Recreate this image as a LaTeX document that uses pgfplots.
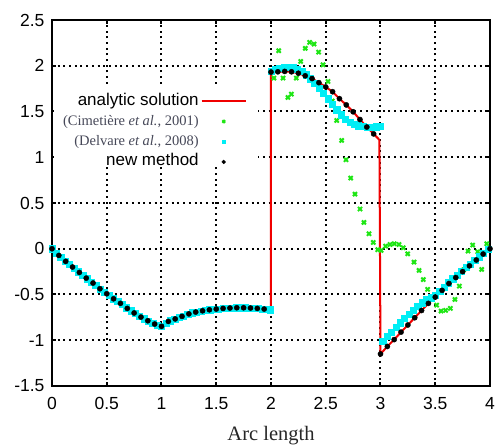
\documentclass[border=0pt]{standalone}
\usepackage{pgfplots}
\pgfplotsset{compat=1.18}
\usepackage{pgfplotstable}
\usepackage{fontspec}
\setmainfont{Liberation Sans}
\newfontfamily\serif{Liberation Serif}
\definecolor{gpred}{RGB}{240,0,0}
\definecolor{gpgreen}{RGB}{30,230,20}
\definecolor{gpcyan}{RGB}{0,238,245}
\definecolor{citegray}{RGB}{70,72,88}
\pgfplotsset{
  leglinecode/.style={legend image code/.code={\draw[##1] (0pt,0pt) -- (44pt,0pt);}},
  legmarkcode/.style={legend image code/.code={\draw[##1, only marks, mark size=1.9pt] plot coordinates {(22pt,0pt)};}},
}

\pgfplotstableread{
x y
0 0
0.0625 -0.073
0.125 -0.138
0.1875 -0.200
0.25 -0.259
0.3125 -0.321
0.375 -0.375
0.4375 -0.437
0.5 -0.492
0.5625 -0.547
0.625 -0.597
0.6875 -0.652
0.75 -0.702
0.8125 -0.747
0.875 -0.787
0.9375 -0.823
1.0 -0.848
1.0625 -0.794
1.125 -0.767
1.1875 -0.739
1.25 -0.712
1.3125 -0.692
1.375 -0.678
1.4375 -0.667
1.5 -0.659
1.5625 -0.652
1.625 -0.648
1.6875 -0.645
1.75 -0.645
1.8125 -0.648
1.875 -0.652
1.9375 -0.659
2.0 -0.667
2.0 1.931
2.0625 1.934
2.125 1.938
2.1875 1.934
2.25 1.918
2.3125 1.890
2.375 1.860
2.4375 1.815
2.5 1.768
2.5625 1.716
2.625 1.640
2.6875 1.572
2.75 1.497
2.8125 1.412
2.875 1.330
2.9375 1.255
2.99 1.190
3.0 -1.150
3.0625 -1.068
3.125 -0.993
3.1875 -0.911
3.25 -0.833
3.3125 -0.754
3.375 -0.675
3.4375 -0.597
3.5 -0.528
3.5625 -0.455
3.625 -0.380
3.6875 -0.315
3.75 -0.250
3.8125 -0.187
3.875 -0.123
3.9375 -0.058
4.0 0.0
}\analytic

\pgfplotstableread{
x y
0 0
0.0625 -0.073
0.125 -0.138
0.1875 -0.200
0.25 -0.259
0.3125 -0.321
0.375 -0.375
0.4375 -0.437
0.5 -0.492
0.5625 -0.547
0.625 -0.597
0.6875 -0.652
0.75 -0.702
0.8125 -0.747
0.875 -0.787
0.9375 -0.823
1.0 -0.848
1.0625 -0.794
1.125 -0.767
1.1875 -0.739
1.25 -0.712
1.3125 -0.692
1.375 -0.678
1.4375 -0.667
1.5 -0.659
1.5625 -0.652
1.625 -0.648
1.6875 -0.645
1.75 -0.645
1.8125 -0.648
1.875 -0.652
1.9375 -0.659
2.0 1.931
2.0625 1.934
2.125 1.938
2.1875 1.934
2.25 1.918
2.3125 1.890
2.375 1.860
2.4375 1.815
2.5 1.768
2.5625 1.716
2.625 1.640
2.6875 1.572
2.75 1.497
2.8125 1.412
2.875 1.330
2.9375 1.255
3.0 -1.150
3.0625 -1.068
3.125 -0.993
3.1875 -0.911
3.25 -0.833
3.3125 -0.754
3.375 -0.675
3.4375 -0.597
3.5 -0.528
3.5625 -0.455
3.625 -0.380
3.6875 -0.315
3.75 -0.250
3.8125 -0.187
3.875 -0.123
3.9375 -0.058
4.0 0.0
}\newmethod

\pgfplotstableread{
x y
0.00 0.000
0.04 -0.047
0.08 -0.094
0.12 -0.133
0.16 -0.172
0.20 -0.212
0.24 -0.250
0.28 -0.290
0.32 -0.328
0.36 -0.362
0.40 -0.401
0.44 -0.439
0.48 -0.474
0.52 -0.511
0.56 -0.545
0.60 -0.577
0.64 -0.609
0.68 -0.644
0.72 -0.678
0.76 -0.706
0.80 -0.739
0.84 -0.765
0.88 -0.790
0.92 -0.815
0.96 -0.833
1.00 -0.848
1.04 -0.814
1.08 -0.786
1.12 -0.768
1.16 -0.751
1.20 -0.733
1.24 -0.714
1.28 -0.700
1.32 -0.690
1.36 -0.681
1.40 -0.674
1.44 -0.667
1.48 -0.661
1.52 -0.657
1.56 -0.652
1.60 -0.649
1.64 -0.647
1.68 -0.645
1.72 -0.645
1.76 -0.645
1.80 -0.647
1.84 -0.649
1.88 -0.652
1.92 -0.657
1.96 -0.662
1.99 -0.666
2.00 1.938
2.04 1.960
2.08 1.977
2.12 1.985
2.16 1.987
2.20 1.980
2.24 1.963
2.28 1.938
2.32 1.902
2.36 1.858
2.40 1.810
2.44 1.758
2.48 1.700
2.52 1.640
2.56 1.580
2.60 1.520
2.64 1.465
2.68 1.418
2.72 1.385
2.76 1.360
2.80 1.345
2.84 1.336
2.88 1.332
2.92 1.330
2.96 1.333
3.00 1.337
3.02 -1.010
3.06 -0.960
3.10 -0.908
3.14 -0.858
3.18 -0.808
3.22 -0.760
3.26 -0.713
3.30 -0.668
3.34 -0.627
3.38 -0.590
3.42 -0.557
3.46 -0.535
3.50 -0.505
3.54 -0.465
3.58 -0.417
3.62 -0.370
3.66 -0.327
3.70 -0.287
3.74 -0.246
3.78 -0.205
3.82 -0.166
3.86 -0.126
3.90 -0.086
3.94 -0.046
3.98 -0.008
}\delvare

\pgfplotstableread{
x y
0.00 0.000
0.04 -0.047
0.08 -0.094
0.12 -0.133
0.16 -0.172
0.20 -0.212
0.24 -0.250
0.28 -0.290
0.32 -0.328
0.36 -0.362
0.40 -0.401
0.44 -0.439
0.48 -0.474
0.52 -0.511
0.56 -0.545
0.60 -0.577
0.64 -0.609
0.68 -0.644
0.72 -0.678
0.76 -0.706
0.80 -0.739
0.84 -0.765
0.88 -0.790
0.92 -0.815
0.96 -0.833
1.00 -0.848
1.04 -0.814
1.08 -0.786
1.12 -0.768
1.16 -0.751
1.20 -0.733
1.24 -0.714
1.28 -0.700
1.32 -0.690
1.36 -0.681
1.40 -0.674
1.44 -0.667
1.48 -0.661
1.52 -0.657
1.56 -0.652
1.60 -0.649
1.64 -0.647
1.68 -0.645
1.72 -0.645
1.76 -0.645
1.80 -0.647
1.84 -0.649
1.88 -0.652
1.92 -0.657
1.96 -0.662
2.027 1.865
2.07 2.164
2.11 1.865
2.155 1.654
2.186 1.690
2.231 1.865
2.271 2.047
2.313 2.190
2.353 2.256
2.393 2.237
2.435 2.149
2.475 2.010
2.52 1.828
2.56 1.615
2.60 1.402
2.646 1.184
2.685 0.973
2.728 0.772
2.767 0.597
2.813 0.434
2.849 0.288
2.895 0.164
2.934 0.069
2.975 -0.010
3.005 -0.018
3.047 0.029
3.087 0.047
3.126 0.055
3.169 0.047
3.208 0.011
3.248 -0.055
3.306 -0.146
3.352 -0.237
3.391 -0.337
3.431 -0.444
3.473 -0.535
3.513 -0.616
3.553 -0.681
3.595 -0.674
3.638 -0.652
3.68 -0.554
3.72 -0.408
3.76 -0.230
3.80 -0.025
3.842 0.040
3.888 -0.033
3.924 -0.226
3.97 0.055
}\cimetiere

\begin{document}
\begin{tikzpicture}
\begin{axis}[
  scale only axis, width=438pt, height=366pt,
  xmin=0, xmax=4, ymin=-1.5, ymax=2.5,
  xtick={0,0.5,1,1.5,2,2.5,3,3.5,4},
  ytick={-1.5,-1,-0.5,0,0.5,1,1.5,2,2.5},
  /pgf/number format/assume math mode=true,
  ticklabel style={font=\fontsize{17.5}{20}\selectfont},
  yticklabel style={xshift=-4pt},
  xticklabel style={yshift=-8pt},
  tick align=inside, major tick length=4pt,
  every tick/.style={black, line width=2pt},
  axis line style={line width=2.2pt},
  grid=major,
  major grid style={black, line width=2pt, dash pattern=on 2pt off 3.7pt},
  clip=false,
  xlabel={\serif\fontsize{20.5}{24}\selectfont Arc length},
  xlabel style={at={(axis description cs:0.5,0)}, anchor=base, yshift=-55pt, black!85},
  legend plot pos=right,
  legend cell align=right,
  legend style={draw=none, fill=none, at={(axis description cs:0.445,0.806)}, anchor=north east,
    inner sep=0pt, row sep=0pt, font=\fontsize{17}{19}\selectfont,
    nodes={text height=13.5pt, text depth=5.5pt, inner ysep=0.6pt}},
]
\fill[white] (axis cs:0.018,0.907) rectangle (axis cs:1.88,1.76);
\addplot[gpred, line width=2pt, no marks, leglinecode] table {\analytic};
\addlegendentry{analytic solution}
\addplot[only marks, mark=x, mark size=2.9pt, gpgreen, mark options={line width=2pt}, legmarkcode] table {\cimetiere};
\addlegendentry{\serif\fontsize{14.5}{16}\selectfont\color{citegray}(Cimetière \textit{et al.}, 2001)}
\addplot[only marks, mark=square*, mark size=3.1pt, gpcyan, legmarkcode] table {\delvare};
\addlegendentry{\serif\fontsize{14.5}{16}\selectfont\color{citegray}(Delvare \textit{et al.}, 2008)}
\addplot[only marks, mark=*, mark size=2.6pt, black, legmarkcode] table {\newmethod};
\addlegendentry{new method}
\end{axis}
\pgfresetboundingbox
\path[use as bounding box] ([shift={(-52pt,-60pt)}]current axis.south west) rectangle ([shift={(5pt,20pt)}]current axis.north east);
\end{tikzpicture}
\end{document}
